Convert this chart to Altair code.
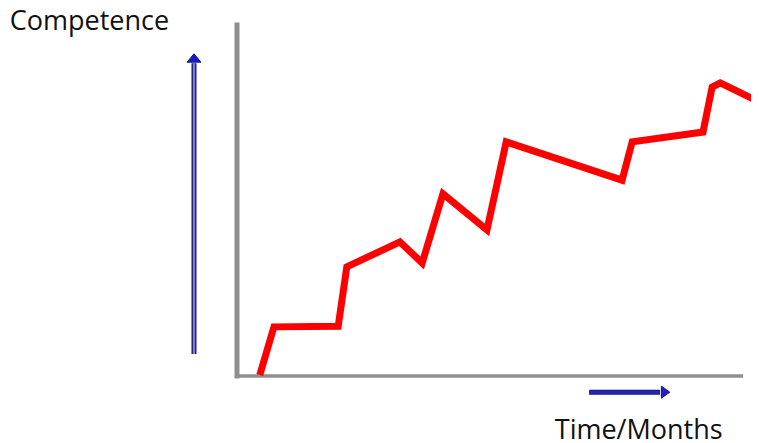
import altair as alt
import pandas as pd

# Competence curve (time in % of the axis span, competence in % of the axis height)
time_pts = [4.5, 7.3, 20.0, 21.7, 32.2, 36.6, 40.7, 49.4, 53.2, 76.1, 78.1, 92.1, 93.9, 95.5, 103.2]
competence = [0.3, 14.0, 14.2, 31.1, 38.2, 32.2, 51.9, 41.6, 66.7, 55.8, 66.7, 69.5, 82.3, 83.5, 78.1]

# Axis frame extents
x_extent = [0, 100]
y_extent = [0, 100]

# Annotation labels
y_label = "Competence"
x_label = "Time/Months"

X = alt.Scale(domain=[0, 100], nice=False, zero=False)
Y = alt.Scale(domain=[0, 100], nice=False, zero=False)

curve_df = pd.DataFrame({"t": time_pts, "c": competence, "i": list(range(len(time_pts)))})

# grey axis frame
vert_df = pd.DataFrame({"x": [x_extent[0]], "y": [y_extent[0]], "y2": [y_extent[1]]})
horiz_df = pd.DataFrame({"x": [x_extent[0]], "x2": [x_extent[1]], "y": [y_extent[0]]})

vert_axis = alt.Chart(vert_df).mark_rule(color="#8e8e8e", strokeWidth=5, strokeCap="square").encode(
    x=alt.X("x:Q", scale=X, axis=None), y=alt.Y("y:Q", scale=Y, axis=None), y2="y2:Q")
horiz_axis = alt.Chart(horiz_df).mark_rule(color="#8e8e8e", strokeWidth=3.5).encode(
    x=alt.X("x:Q", scale=X, axis=None), x2="x2:Q", y=alt.Y("y:Q", scale=Y, axis=None))

line = alt.Chart(curve_df).mark_line(color="#ff0000", strokeWidth=7, strokeJoin="miter", clip=False).encode(
    x=alt.X("t:Q", scale=X, axis=None),
    y=alt.Y("c:Q", scale=Y, axis=None),
    order="i:Q",
)

# vertical (competence) arrow
va_df = pd.DataFrame({"x": [-8.5], "y": [6.3], "y2": [89.1], "hy": [90.6]})
va_outer = alt.Chart(va_df).mark_rule(color="#1c1c66", strokeWidth=5).encode(
    x=alt.X("x:Q", scale=X, axis=None), y=alt.Y("y:Q", scale=Y, axis=None), y2="y2:Q")
va_inner = alt.Chart(va_df).mark_rule(color="#7a7ae0", strokeWidth=2.2).encode(
    x=alt.X("x:Q", scale=X, axis=None), y=alt.Y("y:Q", scale=Y, axis=None), y2="y2:Q")
va_head = alt.Chart(va_df).mark_point(
    shape="M0,-0.6L-1,0.6L1,0.6Z", size=196, filled=True, fill="#1818d8", stroke="#1c1c66",
    strokeWidth=1, opacity=1).encode(
    x=alt.X("x:Q", scale=X, axis=None), y=alt.Y("hy:Q", scale=Y, axis=None))

# horizontal (time) arrow
ha_df = pd.DataFrame({"x": [69.6], "x2": [83.6], "y": [-4.6], "hx": [84.7]})
ha_outer = alt.Chart(ha_df).mark_rule(color="#16166e", strokeWidth=5).encode(
    x=alt.X("x:Q", scale=X, axis=None), x2="x2:Q", y=alt.Y("y:Q", scale=Y, axis=None))
ha_inner = alt.Chart(ha_df).mark_rule(color="#2323c8", strokeWidth=3).encode(
    x=alt.X("x:Q", scale=X, axis=None), x2="x2:Q", y=alt.Y("y:Q", scale=Y, axis=None))
ha_head = alt.Chart(ha_df).mark_point(
    shape="M0,-0.7L-1,0.7L1,0.7Z", size=144, angle=90, filled=True, fill="#2020c8", stroke="#16166e",
    strokeWidth=1, opacity=1).encode(
    x=alt.X("hx:Q", scale=X, axis=None), y=alt.Y("y:Q", scale=Y, axis=None))

# labels
lab_df = pd.DataFrame({"x": [-44.9, 62.8], "y": [98.6, -17.9], "txt": [y_label, x_label]})
labels = alt.Chart(lab_df).mark_text(
    align="left", baseline="alphabetic", font="Open Sans", fontSize=27, color="#111111").encode(
    x=alt.X("x:Q", scale=X, axis=None), y=alt.Y("y:Q", scale=Y, axis=None), text="txt:N")

chart = alt.layer(
    vert_axis, horiz_axis, line, va_outer, va_inner, va_head, ha_outer, ha_inner, ha_head, labels
).properties(
    width=506, height=351,
    padding={"left": 229, "top": 17, "right": 8, "bottom": 65},
    autosize="none",
    background="white",
).configure_view(stroke=None)

chart.save("out.html", embed_options={"renderer": "svg", "actions": False})
